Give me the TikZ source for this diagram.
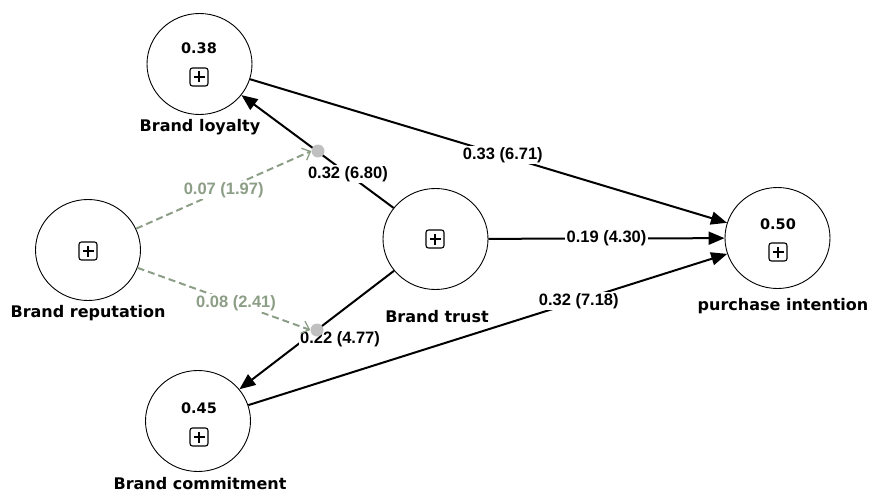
\documentclass[tikz,border=0pt]{standalone}
\usepackage{fontspec}
\setmainfont{DejaVu Sans}
\newfontfamily\numfont{Liberation Sans}
\usetikzlibrary{arrows.meta,shapes.geometric}
\definecolor{grn}{RGB}{140,158,134}
\definecolor{dotgray}{RGB}{192,192,192}
\begin{document}
\begin{tikzpicture}[x=1pt,y=-1pt,
  lv/.style={ellipse,draw,line width=0.9pt,minimum width=105pt,minimum height=101pt,inner sep=0pt},
  nm/.style={font=\bfseries\fontsize{16}{16}\selectfont},
  val/.style={font=\bfseries\fontsize{14.5}{14.5}\selectfont,inner sep=0pt},
  pth/.style={line width=2pt,-{Triangle[length=16pt,width=13pt]}},
  coef/.style={fill=white,inner sep=1.5pt,font=\numfont\bfseries\fontsize{16.5}{16.5}\selectfont},
  gcoef/.style={coef,text=grn},
  dpth/.style={draw=grn,line width=2pt,dash pattern=on 7pt off 4pt,-{Straight Barb[length=7pt,width=13pt,line width=1.3pt]}},
  gdot/.style={circle,fill=dotgray,inner sep=0pt,minimum size=13pt},
  plusbox/.style={draw,rounded corners=2.5pt,minimum size=18pt,inner sep=0pt,line width=1.1pt,
    path picture={\draw[line width=1.1pt] ([xshift=-5.5pt]path picture bounding box.center) -- ([xshift=5.5pt]path picture bounding box.center)
      ([yshift=-5.5pt]path picture bounding box.center) -- ([yshift=5.5pt]path picture bounding box.center);}}
]
\useasboundingbox (0,0) rectangle (873,495);

% latent variables
\node[lv] (loy) at (199.5,64) {};
\node[lv] (rep) at (88,250) {};
\node[lv] (tru) at (435.5,239) {};
\node[lv] (com) at (198,421) {};
\node[lv] (pur) at (777.5,238) {};

% values and plus boxes
\node[val] (vloy) at (199,48) {0.38};
\node[plusbox] (ploy) at (199,77) {};
\node[plusbox] (prep) at (88,251) {};
\node[plusbox] (ptru) at (435,239) {};
\node[val] (vcom) at (199,408) {0.45};
\node[plusbox] (pcom) at (199,437) {};
\node[val] (vpur) at (778,224) {0.50};
\node[plusbox] (ppur) at (778,252) {};

% names
\node[nm] (nloy) at (200,127) {Brand loyalty};
\node[nm] (nrep) at (88,313) {Brand reputation};
\node[nm] (ntru) at (437,317) {Brand trust};
\node[nm] (ncom) at (200,484) {Brand commitment};
\node[nm] (npur) at (783,306) {purchase intention};

% paths
\draw[pth] (tru) -- (loy) node[coef,pos=0.3] (c1) {0.32 (6.80)};
\draw[pth] (tru) -- (com);
\node[coef] (c2) at (340,339) {0.22 (4.77)};
\draw[pth] (loy) -- (pur) node[coef,pos=0.53] (c3) {0.33 (6.71)};
\draw[pth] (tru) -- (pur) node[coef,pos=0.5] (c4) {0.19 (4.30)};
\draw[pth] (com) -- (pur) node[coef,pos=0.69] (c5) {0.32 (7.18)};

% moderation dots
\node[gdot] (d1) at (318,151) {};
\node[gdot] (d2) at (317,330) {};

% moderating effects
\draw[dpth] (rep) -- (d1.west) node[gcoef,pos=0.5] (g1) {0.07 (1.97)};
\draw[dpth] (rep) -- (d2.west) node[gcoef,pos=0.57] (g2) {0.08 (2.41)};
\end{tikzpicture}
\end{document}
